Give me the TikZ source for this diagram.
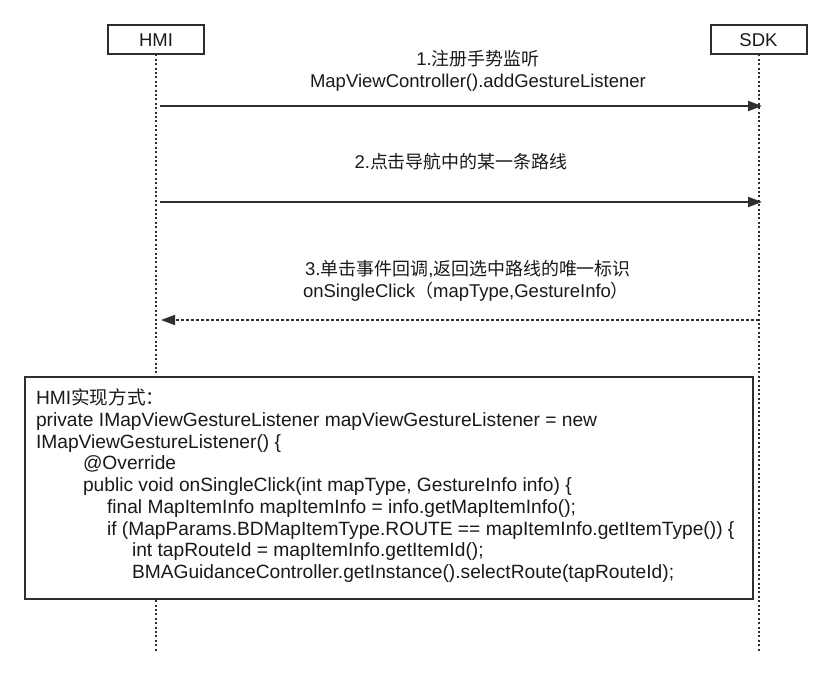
\documentclass[tikz,border=0pt]{standalone}
\usepackage{fontspec}
\setmainfont{Liberation Sans}
\newfontfamily\cjk[Scale=0.97]{Noto Sans CJK SC}
\usetikzlibrary{arrows.meta}
\definecolor{ink}{HTML}{2E2E2E}
\definecolor{txt}{HTML}{1A1A1A}
\begin{document}
\begin{tikzpicture}[x=1pt,y=-1pt,
  every node/.style={inner sep=0pt,outer sep=0pt,text=txt,font=\fontsize{18.5}{22}\selectfont},
  actor/.style={draw=ink,line width=2pt,fill=white,minimum width=96pt,minimum height=29pt},
  life/.style={draw=ink,line width=2pt,dash pattern=on 2pt off 2.4pt},
  msg/.style={draw=ink,line width=2pt,-{Triangle[length=14pt,width=10pt]}},
  reply/.style={draw=ink,line width=1.8pt,dash pattern=on 3pt off 2pt,-{Triangle[length=14pt,width=10pt]}},
  lbl/.style={anchor=base},
  code/.style={anchor=base west,font=\fontsize{19.2}{22}\selectfont},
  notebox/.style={draw=ink,line width=2pt,fill=white}]
\useasboundingbox (0,0) rectangle (828,677);
\fill[white] (0,0) rectangle (828,677);
% actors
\node[actor] (hmi) at (156,40) {HMI};
\node[actor] (sdk) at (758.5,40) {SDK};
\coordinate (hmiend) at (156,652);
\coordinate (sdkend) at (758.5,652);
\draw[life] (hmi.south) -- (hmiend);
\draw[life] (sdk.south) -- (sdkend);
% message 1
\coordinate (m1s) at (160,106);
\coordinate (m1e) at (762,106);
\draw[msg] (m1s) -- (m1e);
\node[lbl] (t1a) at (478,66) {1.{\cjk 注册手势监听}};
\node[lbl] (t1b) at (478,88) {MapViewController().addGestureListener};
% message 2
\coordinate (m2s) at (160,202);
\coordinate (m2e) at (762,202);
\draw[msg] (m2s) -- (m2e);
\node[lbl] (t2) at (461,168) {2.{\cjk 点击导航中的某一条路线}};
% message 3
\coordinate (m3s) at (758.5,320);
\coordinate (m3e) at (161,320);
\draw[reply] (m3s) -- (m3e);
\node[lbl] (t3a) at (468,275) {3.{\cjk 单击事件回调},{\cjk 返回选中路线的唯一标识}};
\node[lbl] (t3b) at (466,297) {onSingleClick{\cjk （}mapType,GestureInfo{\cjk ）}};
% note box
\node[notebox,anchor=north west,minimum width=728pt,minimum height=222pt] (note) at (25,377) {};
\node[code] (c1) at (36,404) {HMI{\cjk 实现方式：}};
\node[code] (c2) at (36,426) {private IMapViewGestureListener mapViewGestureListener = new};
\node[code] (c3) at (36,448) {IMapViewGestureListener() \{};
\node[code] (c4) at (83,469) {@Override};
\node[code] (c5) at (83,491) {public void onSingleClick(int mapType, GestureInfo info) \{};
\node[code] (c6) at (107,513) {final MapItemInfo mapItemInfo = info.getMapItemInfo();};
\node[code] (c7) at (107,535) {if (MapParams.BDMapItemType.ROUTE == mapItemInfo.getItemType()) \{};
\node[code] (c8) at (132,556) {int tapRouteId = mapItemInfo.getItemId();};
\node[code] (c9) at (132,578) {BMAGuidanceController.getInstance().selectRoute(tapRouteId);};
\end{tikzpicture}
\end{document}
